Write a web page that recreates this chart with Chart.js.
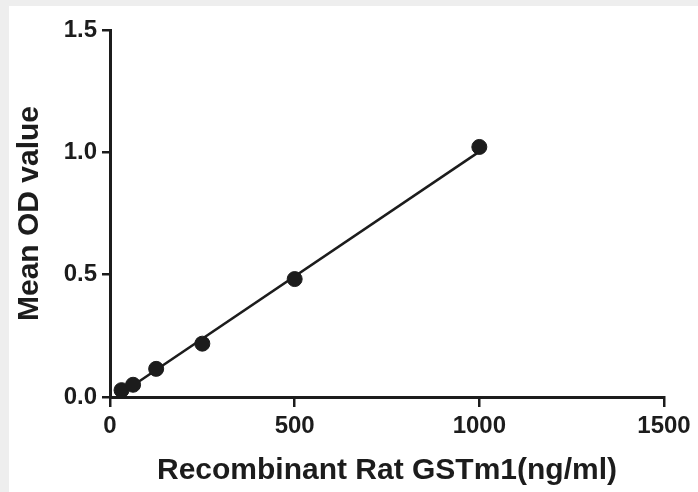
<!DOCTYPE html>
<html lang="en">
<head>
  <meta charset="UTF-8">
  <title>Recombinant Rat GSTm1 standard curve</title>
  <style>
    html, body { margin: 0; padding: 0; background: #eeeeee; }
    #wrap {
      position: absolute; left: 9px; top: 6px;
      width: 689px; height: 486px; background: #ffffff;
    }
  </style>
</head>
<body>
  <div id="wrap">
    <canvas id="curva" width="689" height="486"></canvas>
  </div>
  <script src="https://cdn.jsdelivr.net/npm/chart.js"></script>
  <script>
    // Standard points
    const concentrations = [31.25, 62.5, 125, 250, 500, 1000];
    const meanOD = [0.028, 0.05, 0.115, 0.218, 0.482, 1.022];

    // Ends of the fitted line as drawn
    const fitX = [31.25, 1000];
    const fitY = [0.015, 1.003];

    // Axis ticks
    const xTicks = [0, 500, 1000, 1500];
    const yTicks = ["0.0", "0.5", "1.0", "1.5"];

    const ink = "#1c1c1c";
    const fuente = "'Liberation Sans', Arial, sans-serif";

    const puntos = concentrations.map((x, i) => ({ x: x, y: meanOD[i] }));
    const recta = fitX.map((x, i) => ({ x: x, y: fitY[i] }));

    const ctx = document.getElementById("curva").getContext("2d");
    new Chart(ctx, {
      type: "scatter",
      data: {
        datasets: [
          {
            label: "fit",
            data: recta,
            showLine: true,
            borderColor: ink,
            borderWidth: 2.5,
            pointRadius: 0,
            order: 2
          },
          {
            label: "Mean OD",
            data: puntos,
            backgroundColor: ink,
            borderColor: ink,
            pointRadius: 7.5,
            pointHoverRadius: 7.5,
            order: 1
          }
        ]
      },
      options: {
        responsive: false,
        animation: false,
        layout: { padding: { left: 0, right: 34, top: 24, bottom: 0 } },
        plugins: {
          legend: { display: false },
          tooltip: { enabled: false }
        },
        scales: {
          x: {
            type: "linear",
            min: xTicks[0],
            max: xTicks[xTicks.length - 1],
            afterBuildTicks: (s) => { s.ticks = xTicks.map(v => ({ value: v })); },
            afterFit: (s) => { s.height = 95; },
            border: { color: ink, width: 3 },
            grid: { drawOnChartArea: false, drawTicks: true, tickLength: 10, color: ink, lineWidth: 2.5 },
            ticks: {
              color: ink,
              padding: 5,
              maxRotation: 0,
              font: { family: fuente, size: 24, weight: "bold" },
              callback: (v) => String(v)
            },
            title: {
              display: true,
              text: "Recombinant Rat GSTm1(ng/ml)",
              color: ink,
              padding: { top: 0, bottom: 3 },
              font: { family: fuente, size: 30, weight: "bold" }
            }
          },
          y: {
            type: "linear",
            min: 0,
            max: 1.5,
            afterBuildTicks: (s) => { s.ticks = yTicks.map(t => ({ value: parseFloat(t) })); },
            afterFit: (s) => { s.width = 101; },
            border: { color: ink, width: 3 },
            grid: { drawOnChartArea: false, drawTicks: true, tickLength: 8, color: ink, lineWidth: 2.5 },
            ticks: {
              color: ink,
              padding: 5,
              font: { family: fuente, size: 24, weight: "bold" },
              callback: (v) => yTicks[Math.round(v / 0.5)]
            },
            title: {
              display: true,
              text: "Mean OD value",
              color: ink,
              padding: { top: 3, bottom: 0 },
              font: { family: fuente, size: 30, weight: "bold" }
            }
          }
        }
      }
    });
  </script>
</body>
</html>
